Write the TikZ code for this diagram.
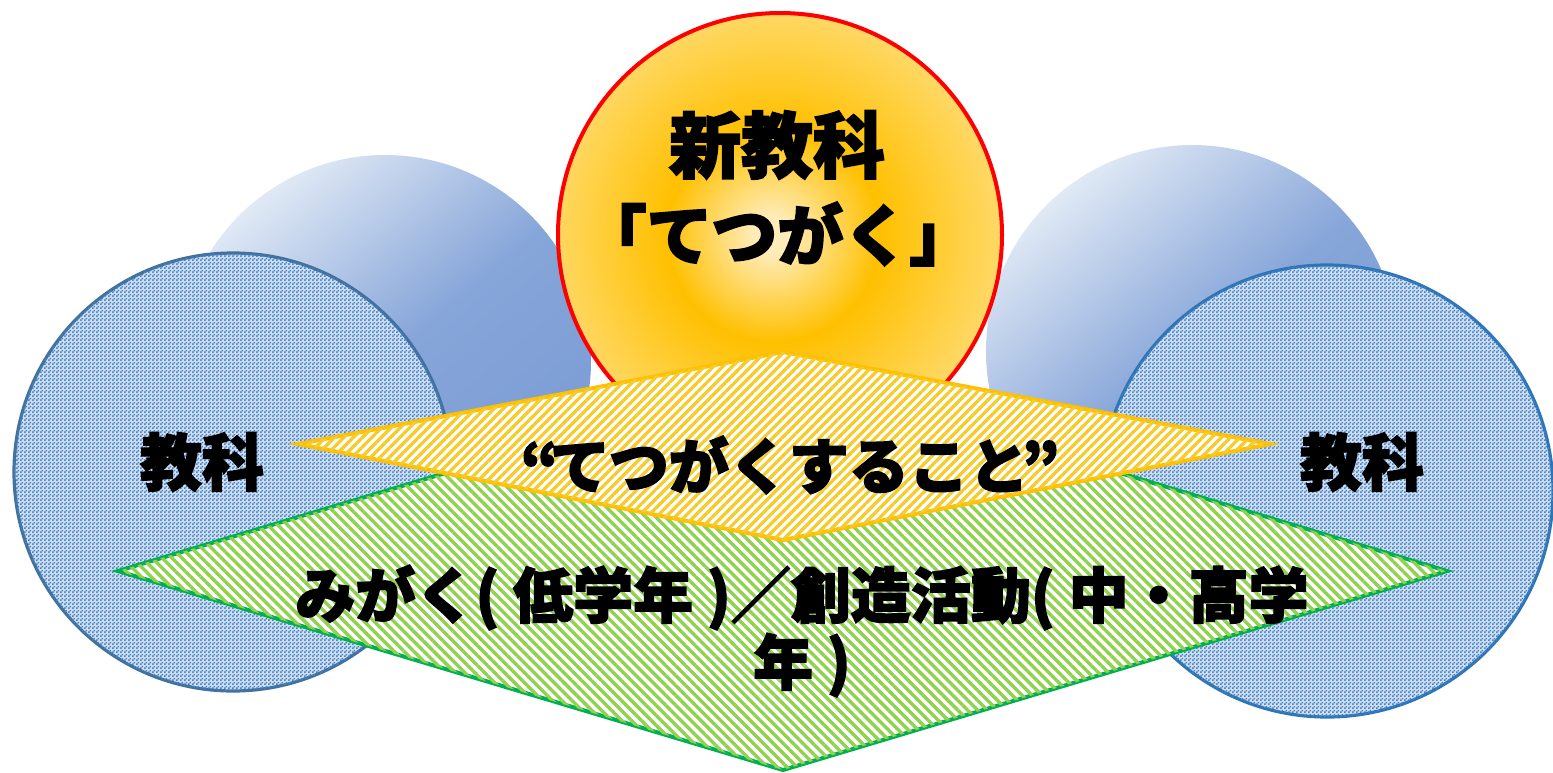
\documentclass[tikz,border=0pt]{standalone}
\usepackage{fontspec}
\usetikzlibrary{patterns,patterns.meta}
\newfontfamily\jp{Noto Sans CJK JP}[BoldFeatures={FakeBold=2.5}]
\definecolor{blueL}{RGB}{224,233,245}
\definecolor{blueD}{RGB}{122,156,213}
\definecolor{checkC}{RGB}{70,130,200}
\definecolor{borderL}{RGB}{65,113,156}
\definecolor{borderR}{RGB}{46,117,182}
\definecolor{sunC}{RGB}{255,236,184}
\definecolor{sunM}{RGB}{255,192,0}
\definecolor{sunE}{RGB}{255,216,100}
\definecolor{yelB}{RGB}{255,192,0}
\definecolor{yelS}{RGB}{244,204,48}
\definecolor{grnB}{RGB}{0,176,80}
\definecolor{grnS}{RGB}{146,208,80}
\pgfdeclarepatternformonly{mychecks}{\pgfqpoint{0pt}{0pt}}{\pgfqpoint{4pt}{4pt}}{\pgfqpoint{4pt}{4pt}}{%
  \pgfpathrectangle{\pgfqpoint{0pt}{0pt}}{\pgfqpoint{2pt}{2pt}}%
  \pgfpathrectangle{\pgfqpoint{2pt}{2pt}}{\pgfqpoint{2pt}{2pt}}%
  \pgfusepath{fill}}
\pgfdeclareradialshading{sunshade}{\pgfpoint{-1bp}{0bp}}{color(0bp)=(sunC); color(2bp)=(sunC); color(12bp)=(sunM); color(25bp)=(sunE); color(50bp)=(sunE)}
\tikzset{
  backcircle/.style={circle, inner sep=0pt, minimum size=#1, top color=blueL, bottom color=blueD, middle color=blueD!88!blueL, shading angle=40},
  frontcircle/.style={circle, inner sep=0pt, minimum size=#1, fill=checkC!25, postaction={pattern=mychecks, pattern color=checkC}, line width=3.2pt},
  bigtext/.style={font=\jp\bfseries\fontsize{#1}{#1}\selectfont, text=black, inner sep=0pt},
  yelkite/.style={line width=4pt, draw=yelB, fill=white, postaction={pattern={Lines[angle=45,distance=6.6pt,line width=3.3pt]}, pattern color=yelS}},
  grnkite/.style={line width=4pt, draw=grnB, fill=white, postaction={pattern={Lines[angle=-45,distance=7pt,line width=3.4pt]}, pattern color=grnS}},
}
\begin{document}
\begin{tikzpicture}[x=1pt,y=-1pt]
\useasboundingbox (0,0) rectangle (1553,772);
% back circles
\node[backcircle=412pt] (bl) at (385,361) {};
\node[backcircle=412pt] (br) at (1192,351) {};
% center sun circle
\node[circle, inner sep=0pt, minimum size=444pt, shade, shading=sunshade, draw=red, line width=4pt] (sun) at (780,235) {};
% front circles
\node[frontcircle=438pt, draw=borderL] (fl) at (233,472) {};
\node[frontcircle=452pt, draw=borderR] (fr) at (1327,491) {};
% green kite
\coordinate (gL) at (118,571);
\coordinate (gT) at (783,372);
\coordinate (gR) at (1447,571);
\coordinate (gB) at (783,770);
\path[grnkite] (gL) -- (gT) -- (gR) -- (gB) -- cycle;
% yellow kite
\coordinate (yL) at (298,444);
\coordinate (yT) at (783,352);
\coordinate (yR) at (1270,444);
\coordinate (yB) at (783,540);
\path[yelkite] (yL) -- (yT) -- (yR) -- (yB) -- cycle;
% texts
\node[bigtext=72] (t1) at (777,145) {新教科};
\node[bigtext=66] (t2) at (778,234) {「てつがく」};
\node[bigtext=62] (kl) at (202,462) {教科};
\node[bigtext=62] (kr) at (1362,462) {教科};
\node[bigtext=60] (tq) at (790,465) {“\kern-0.14em てつがくすること\kern-0.12em”};
\node[bigtext=60, align=center, font=\jp\bfseries\fontsize{60}{67}\selectfont] (tm) at (802,631) {みがく( 低学年 )／創造活動( 中・高学\\年 )};
\end{tikzpicture}
\end{document}
